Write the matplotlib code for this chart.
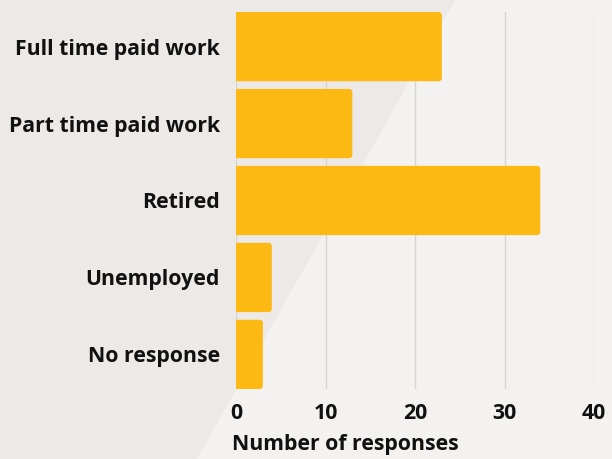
import matplotlib
matplotlib.use("Agg")
import matplotlib.pyplot as plt
from matplotlib.patches import Polygon, FancyBboxPatch

categories = ["Full time paid work", "Part time paid work", "Retired",
              "Unemployed", "No response"]
responses = [23, 13, 34, 4, 3]
xticks = [0, 10, 20, 30, 40]

YELLOW = "#fdb913"
BG_LIGHT, BG_DARK = "#f3f2f0", "#ece9e6"
INK, GRID = "#111111", "#d6d4d1"
WEIGHT = "bold"
FS = 15.3

plt.rcParams["font.family"] = ["Open Sans", "DejaVu Sans"]

fig = plt.figure(figsize=(6.12, 4.59), dpi=100, facecolor=BG_LIGHT)

# diagonal two-tone backdrop on its own axes underneath everything
bg = fig.add_axes([0, 0, 1, 1], zorder=-1)
bg.set_xlim(0, 1)
bg.set_ylim(0, 1)
bg.axis("off")
bg.add_patch(Polygon([(0, 0), (197 / 612, 0), (455 / 612, 1), (0, 1)],
                     closed=True, facecolor=BG_DARK, edgecolor="none"))

ax = fig.add_axes([236 / 612, 1 - 389 / 459, 358 / 612, 377 / 459])
ax.set_facecolor("none")

bars = ax.barh(categories, responses, height=0.9, color=YELLOW, zorder=2)
ax.set_xlim(0, 40)
ax.set_ylim(4.45, -0.45)

# swap plain rectangles for ones with rounded right-hand corners
for b in bars:
    x, y, w, h = b.get_x(), b.get_y(), b.get_width(), b.get_height()
    b.set_visible(False)
    p = FancyBboxPatch((x - 1, y), w + 1, h,
                       boxstyle="round,pad=0,rounding_size=0.35",
                       mutation_aspect=0.116, facecolor=YELLOW,
                       edgecolor="none", zorder=2)
    ax.add_patch(p)
    p.set_clip_path(ax.patch)

ax.set_xticks(xticks)
ax.xaxis.grid(True, color=GRID, lw=1)
ax.set_axisbelow(True)
for s in ax.spines.values():
    s.set_visible(False)
ax.tick_params(length=0, labelsize=FS, colors=INK)
ax.tick_params(axis="x", pad=10)
ax.tick_params(axis="y", pad=11.5)
for lab in ax.get_xticklabels() + ax.get_yticklabels():
    lab.set_fontweight(WEIGHT)

ax.set_xlabel("Number of responses", fontsize=FS, fontweight=WEIGHT,
              color=INK, loc="left", labelpad=7)
ax.xaxis.label.set_x(-4 / 358)

fig.savefig("out.png", dpi=100, facecolor=BG_LIGHT)
